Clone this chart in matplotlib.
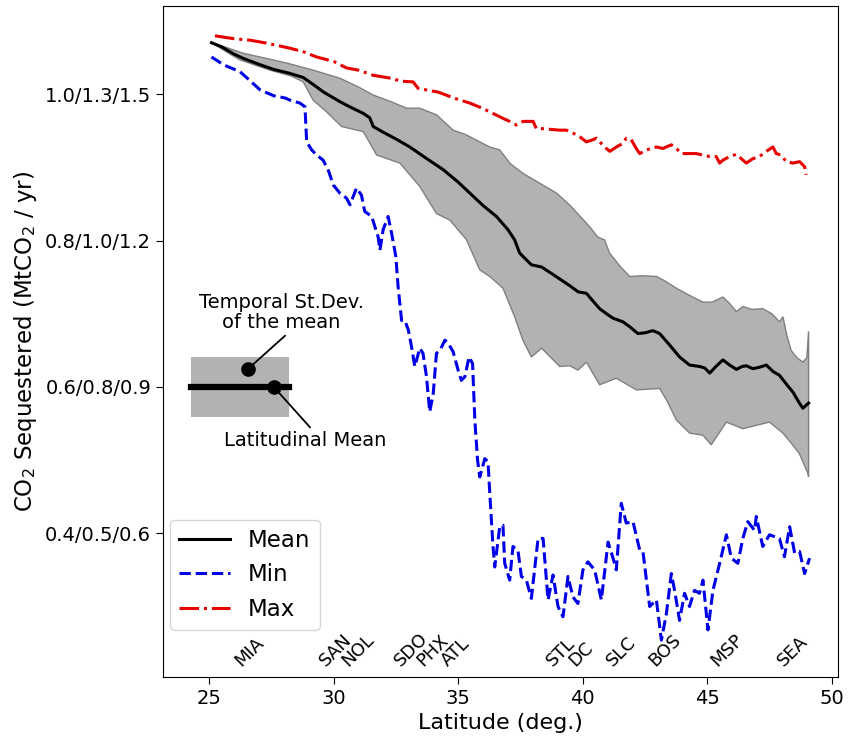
import numpy as np
import matplotlib
matplotlib.use("Agg")
import matplotlib.pyplot as plt

# ---------------- data ----------------
mean_lat = [25.1, 25.5, 26.0, 26.38, 27.0, 27.6, 28.2, 28.78, 29.2, 29.6, 30.25, 30.7, 31.19, 31.45,
            31.59, 32.0, 32.5, 33.06, 33.7, 34.4, 35.0, 35.5, 36.0, 36.54, 37.0, 37.27, 37.47, 37.94,
            38.35, 38.8, 39.15, 39.5, 39.82, 40.15, 40.4, 40.68, 41.0, 41.22, 41.62, 41.9, 42.22, 42.5,
            42.82, 43.09, 43.5, 43.89, 44.29, 44.69, 44.9, 45.1, 45.35, 45.63, 45.9, 46.17, 46.4, 46.57,
            46.83, 47.1, 47.37, 47.65, 47.9, 48.2, 48.44, 48.7, 48.84, 49.07]
mean_val = [1.0705, 1.065, 1.055, 1.049, 1.041, 1.034, 1.029, 1.023, 1.013, 1.003, 0.990, 0.982, 0.974, 0.968,
            0.956, 0.948, 0.939, 0.928, 0.913, 0.897, 0.880, 0.864, 0.848, 0.833, 0.815, 0.801, 0.783, 0.767,
            0.764, 0.754, 0.746, 0.738, 0.730, 0.728, 0.718, 0.707, 0.699, 0.694, 0.689, 0.682, 0.673, 0.674,
            0.677, 0.673, 0.657, 0.641, 0.630, 0.628, 0.626, 0.619, 0.628, 0.637, 0.630, 0.624, 0.628, 0.629,
            0.625, 0.627, 0.630, 0.621, 0.616, 0.603, 0.593, 0.578, 0.571, 0.578]

upper_lat = [25.1, 25.7, 26.38, 27.31, 28.2, 29.18, 30.25, 31.0, 31.59, 32.3, 32.93, 33.46, 34.13, 34.8,
             35.3, 35.87, 36.27, 36.67, 37.1, 37.6, 38.3, 38.95, 39.5, 40.28, 40.6, 40.88, 41.08, 41.5,
             41.89, 42.4, 42.96, 43.3, 43.76, 44.3, 44.83, 45.2, 45.63, 45.9, 46.17, 46.43, 46.8, 47.23,
             47.6, 47.9, 48.04, 48.2, 48.37, 48.6, 48.84, 49.0, 49.07]
upper_val = [1.0705, 1.064, 1.056, 1.049, 1.042, 1.033, 1.022, 1.010, 0.999, 0.990, 0.981, 0.981, 0.972, 0.951,
             0.945, 0.935, 0.928, 0.924, 0.905, 0.892, 0.878, 0.865, 0.848, 0.819, 0.805, 0.801, 0.783, 0.765,
             0.751, 0.752, 0.751, 0.745, 0.735, 0.725, 0.716, 0.716, 0.723, 0.714, 0.703, 0.710, 0.706, 0.707,
             0.700, 0.689, 0.696, 0.670, 0.650, 0.640, 0.634, 0.640, 0.676]

lower_lat = [25.1, 25.7, 26.24, 27.45, 28.3, 28.78, 29.18, 29.72, 30.32, 31.19, 31.73, 32.66, 33.46, 34.13,
             34.67, 35.34, 35.87, 36.27, 36.8, 37.27, 37.6, 37.94, 38.35, 39.08, 39.48, 39.81, 40.15, 40.68,
             41.35, 42.16, 43.09, 43.4, 43.76, 44.29, 44.83, 45.16, 45.77, 46.43, 47.5, 48.04, 48.4, 48.7,
             49.04, 49.07]
lower_val = [1.0705, 1.058, 1.047, 1.033, 1.025, 1.017, 0.992, 0.976, 0.956, 0.949, 0.917, 0.906, 0.874, 0.837,
             0.828, 0.801, 0.760, 0.751, 0.735, 0.696, 0.664, 0.641, 0.653, 0.628, 0.629, 0.623, 0.634, 0.603,
             0.612, 0.596, 0.598, 0.580, 0.555, 0.537, 0.534, 0.521, 0.552, 0.543, 0.552, 0.537, 0.522, 0.509,
             0.482, 0.477]

min_lat = [25.1, 25.6, 26.24, 26.6, 27.05, 27.6, 28.05, 28.25, 28.65, 28.85, 28.92, 29.12, 29.32, 29.58,
           29.79, 29.99, 30.25, 30.52, 30.66, 30.92, 31.12, 31.25, 31.53, 31.66, 31.79, 31.86, 31.99, 32.19,
           32.33, 32.5, 32.59, 32.73, 32.86, 33.0, 33.13, 33.26, 33.46, 33.59, 33.73, 33.86, 34.0, 34.13,
           34.27, 34.47, 34.6, 34.8, 35.0, 35.13, 35.27, 35.44, 35.58, 35.67, 35.78, 35.87, 36.07, 36.2,
           36.27, 36.4, 36.47, 36.67, 36.8, 36.87, 37.07, 37.2, 37.4, 37.54, 37.74, 37.94, 38.21, 38.41,
           38.61, 38.81, 39.01, 39.21, 39.41, 39.61, 39.81, 40.01, 40.21, 40.48, 40.75, 41.02, 41.22, 41.35,
           41.55, 41.75, 42.02, 42.29, 42.42, 42.69, 42.96, 43.16, 43.36, 43.56, 43.69, 43.89, 44.09, 44.29,
           44.49, 44.69, 44.83, 45.03, 45.23, 45.5, 45.77, 45.97, 46.23, 46.43, 46.63, 46.9, 46.97, 47.23,
           47.5, 47.9, 48.1, 48.31, 48.51, 48.71, 48.91, 49.11]
min_val = [1.051, 1.040, 1.031, 1.020, 1.006, 0.998, 0.995, 0.992, 0.988, 0.983, 0.935, 0.924, 0.917, 0.910,
           0.896, 0.876, 0.865, 0.858, 0.849, 0.872, 0.862, 0.840, 0.833, 0.819, 0.805, 0.787, 0.815, 0.833,
           0.810, 0.778, 0.737, 0.691, 0.691, 0.678, 0.655, 0.628, 0.653, 0.646, 0.614, 0.566, 0.591, 0.646,
           0.650, 0.664, 0.660, 0.648, 0.623, 0.609, 0.614, 0.641, 0.632, 0.555, 0.500, 0.477, 0.502, 0.498,
           0.455, 0.382, 0.354, 0.409, 0.411, 0.359, 0.336, 0.382, 0.377, 0.341, 0.336, 0.311, 0.393, 0.393,
           0.309, 0.343, 0.300, 0.286, 0.341, 0.313, 0.304, 0.350, 0.361, 0.350, 0.309, 0.388, 0.366, 0.350,
           0.441, 0.414, 0.416, 0.377, 0.375, 0.300, 0.309, 0.254, 0.290, 0.345, 0.322, 0.281, 0.318, 0.300,
           0.322, 0.318, 0.336, 0.268, 0.322, 0.359, 0.398, 0.366, 0.359, 0.393, 0.416, 0.404, 0.423, 0.382,
           0.398, 0.393, 0.368, 0.409, 0.373, 0.375, 0.345, 0.366]

max_lat = [25.24, 25.6, 26.0, 26.64, 27.3, 28.25, 28.8, 29.32, 30.0, 30.52, 31.0, 31.59, 32.3, 32.7, 33.19,
           33.4, 33.73, 34.2, 34.67, 35.0, 35.47, 35.9, 36.27, 36.81, 37.07, 37.34, 37.61, 38.01, 38.14,
           38.41, 39.08, 39.35, 39.61, 39.88, 40.15, 40.42, 40.55, 40.88, 41.09, 41.35, 41.62, 41.75, 41.95,
           42.15, 42.29, 42.56, 42.96, 43.22, 43.56, 43.76, 43.96, 44.16, 44.56, 44.83, 45.10, 45.36, 45.50,
           45.63, 45.90, 46.17, 46.37, 46.57, 46.83, 47.10, 47.37, 47.64, 47.77, 47.97, 48.17, 48.44, 48.71,
           48.91, 48.97]
max_val = [1.080, 1.078, 1.076, 1.074, 1.070, 1.063, 1.058, 1.051, 1.045, 1.036, 1.033, 1.026, 1.022, 1.018, 1.017,
           1.008, 1.006, 1.003, 0.997, 0.993, 0.988, 0.982, 0.976, 0.967, 0.963, 0.958, 0.963, 0.963, 0.953,
           0.953, 0.951, 0.951, 0.947, 0.942, 0.935, 0.938, 0.940, 0.928, 0.922, 0.928, 0.933, 0.940, 0.938,
           0.926, 0.919, 0.924, 0.928, 0.926, 0.931, 0.926, 0.919, 0.919, 0.919, 0.917, 0.915, 0.915, 0.906,
           0.910, 0.915, 0.918, 0.912, 0.906, 0.912, 0.915, 0.922, 0.928, 0.919, 0.917, 0.908, 0.906, 0.908,
           0.901, 0.890]

city_names = ["MIA", "SAN", "NOL", "SDO", "PHX", "ATL", "STL", "DC", "SLC", "BOS", "MSP", "SEA"]
city_lat = [25.9, 29.3, 30.2, 32.3, 33.2, 34.2, 38.4, 39.3, 40.8, 42.5, 45.0, 47.7]

ytick_vals = [0.4, 0.6, 0.8, 1.0]
ytick_labels = ["0.4/0.5/0.6", "0.6/0.8/0.9", "0.8/1.0/1.2", "1.0/1.3/1.5"]
xtick_vals = [25, 30, 35, 40, 45, 50]

# ---------------- figure ----------------
plt.rcParams['font.family'] = ['DejaVu Sans']
fig = plt.figure(figsize=(8.51, 7.49), dpi=100)
ax = fig.add_axes([0.1915, 0.0965, 0.7932, 0.8955])

band_face = '#b2b2b2'
band_edge = '#808080'
poly_x = np.concatenate([upper_lat, lower_lat[::-1]])
poly_y = np.concatenate([upper_val, lower_val[::-1]])
ax.fill(poly_x, poly_y, facecolor=band_face, edgecolor=band_edge, linewidth=1.0, zorder=1)

ax.plot(mean_lat, mean_val, color='black', lw=2.2, label='Mean', zorder=4)
ax.plot(min_lat, min_val, color='#0000e6', lw=2.2, ls='--', label='Min', zorder=3)
ax.plot(max_lat, max_val, color='#e60000', lw=2.2, ls='-.', label='Max', zorder=3)

# schematic
ax.fill_between([24.28, 28.21], [0.559, 0.559], [0.641, 0.641], color=band_face, lw=0, zorder=2)
ax.plot([24.28, 28.21], [0.600, 0.600], color='black', lw=4.5, zorder=3)
ax.plot([26.56, 28.05], [0.6245, 0.670], color='black', lw=1.3, zorder=4)
ax.plot([27.6, 29.05], [0.600, 0.545], color='black', lw=1.3, zorder=4)
ax.plot([26.56], [0.6245], 'o', color='black', ms=9.5, zorder=5)
ax.plot([27.6], [0.600], 'o', color='black', ms=9.5, zorder=5)
ax.text(27.9, 0.675, "Temporal St.Dev.\nof the mean", ha='center', va='bottom', fontsize=14,
        linespacing=1.1)
ax.text(28.85, 0.5265, "Latitudinal Mean", ha='center', va='center', fontsize=14)

for name, lat in zip(city_names, city_lat):
    ax.text(lat, 0.213, name, rotation=45, ha='left', va='bottom', fontsize=13)

ax.set_xlim(23.15, 50.25)
ax.set_ylim(0.204, 1.1207)
ax.set_xticks(xtick_vals)
ax.set_yticks(ytick_vals)
ax.set_yticklabels(ytick_labels)
ax.tick_params(labelsize=14, length=5)
ax.set_xlabel("Latitude (deg.)", fontsize=16)
ax.set_ylabel(r"CO$_2$ Sequestered (MtCO$_2$ / yr)", fontsize=16.5)

ax.legend(loc='lower left', bbox_to_anchor=(0.0104, 0.0696), borderaxespad=0, fontsize=16.5,
          handlelength=2.2)

fig.savefig("out.png", dpi=100)
